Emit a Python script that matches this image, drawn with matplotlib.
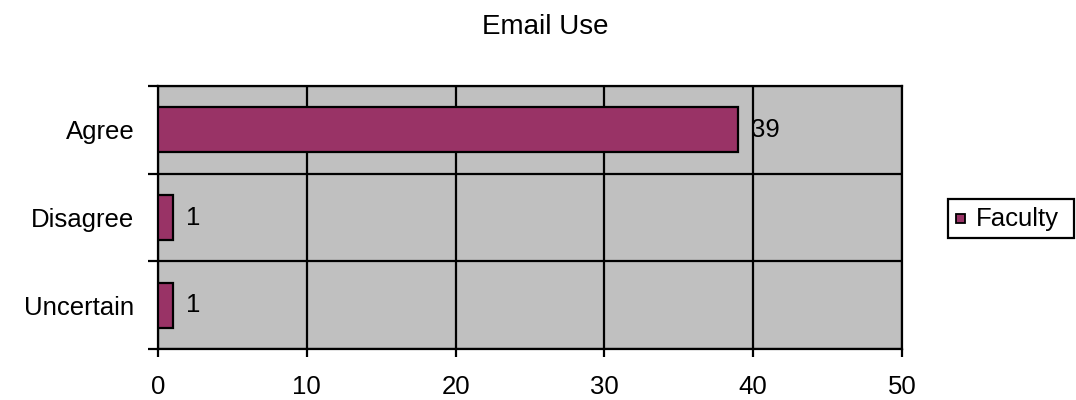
import matplotlib
matplotlib.use("Agg")
import matplotlib.pyplot as plt
from matplotlib.patches import Rectangle

categories = ["Agree", "Disagree", "Uncertain"]
faculty = [39, 1, 1]
x_ticks = [0, 10, 20, 30, 40, 50]
series_name = "Faculty"
title = "Email Use"

plt.rcParams["font.family"] = ["Liberation Sans", "DejaVu Sans"]

W, H = 1076, 400
fig = plt.figure(figsize=(W / 100, H / 100), dpi=100)
ax = fig.add_axes([158 / W, 1 - 349 / H, (902 - 158) / W, (349 - 86) / H])

bar_color = "#993366"
ax.set_facecolor("#C0C0C0")

ypos = list(range(len(categories)))[::-1]
ax.barh(ypos, faculty, height=0.51, color=bar_color,
        edgecolor="black", linewidth=1.6, zorder=3)
for y, v in zip(ypos, faculty):
    ax.text(v + 0.85, y, str(v), va="center", ha="left", fontsize=18.5, zorder=4)

ax.set_xlim(0, 50)
ax.set_ylim(-0.5, len(categories) - 0.5)
ax.set_xticks(x_ticks)
ax.set_xticklabels([str(t) for t in x_ticks], fontsize=18.5)

# category labels centred in bands, tick marks on band boundaries
ax.set_yticks(ypos)
ax.set_yticklabels(categories, fontsize=18.5)
ax.tick_params(axis="y", which="major", length=0, pad=17)
ax.set_yticks([-0.5 + i for i in range(len(categories) + 1)], minor=True)
ax.tick_params(axis="y", which="minor", length=7, width=1.6, direction="out")
ax.tick_params(axis="x", which="major", length=6, width=1.6, pad=13)

ax.grid(True, which="major", axis="x", color="black", linewidth=1.6, zorder=1)
ax.grid(True, which="minor", axis="y", color="black", linewidth=1.6, zorder=1)
ax.set_axisbelow(True)
for s in ax.spines.values():
    s.set_linewidth(1.6)
    s.set_color("black")

fig.text(545 / W, 1 - 27 / H, title, ha="center", va="center", fontsize=20)

# legend box drawn in figure pixel coordinates
def fx(px):
    return px / W

def fy(py):
    return 1 - py / H

fig.patches.append(Rectangle((fx(948), fy(238)), fx(1074) - fx(948), fy(199) - fy(238),
                             transform=fig.transFigure, facecolor="white",
                             edgecolor="black", linewidth=1.6))
fig.patches.append(Rectangle((fx(956), fy(223)), fx(965) - fx(956), fy(214) - fy(223),
                             transform=fig.transFigure, facecolor=bar_color,
                             edgecolor="black", linewidth=1.3))
fig.text(fx(976), fy(219), series_name, ha="left", va="center", fontsize=18.5)

fig.savefig("out.png", dpi=100)
